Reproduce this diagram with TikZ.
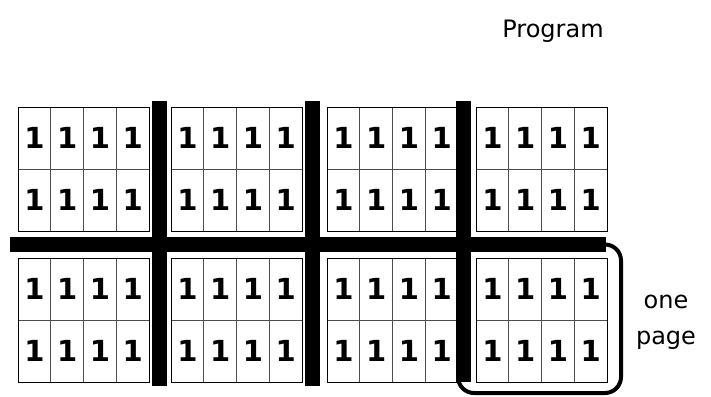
\documentclass[tikz,border=0pt]{standalone}
\usepackage{fontspec}
\setmainfont{DejaVu Sans}
\usetikzlibrary{positioning}

\begin{document}
\begin{tikzpicture}[
    x=1pt, y=-1pt,
    cell/.style={draw=black!70, line width=0.8pt, minimum width=32.75pt, minimum height=62pt, inner sep=0pt, font=\fontsize{29}{29}\selectfont\bfseries},
    blockline/.style={draw=black, line width=1pt},
    bar/.style={line width=15pt},
    pagebox/.style={line width=4pt, rounded corners=16pt},
    lbl/.style={font=\fontsize{24}{36}\selectfont, align=center}
]
    \useasboundingbox (0,0) rectangle (711,396);

    % blocks of ones
    \foreach \bx [count=\b] in {18,171,327,476} {
        \foreach \by [count=\r] in {107,258} {
            \foreach \k in {0,1} {
                \foreach \j in {0,...,3} {
                    \node[cell] (c\b\r\k\j) at ({\bx+32.75*\j+16.375},{\by+62*\k+31}) {1};
                }
            }
            \draw[blockline] (\bx,\by) rectangle +(131,124);
        }
    }

    % splitting bars
    \draw[bar] (10,244.5) -- (606,244.5);
    \draw[bar] (159,101) -- (159,386);
    \draw[bar] (312.5,101) -- (312.5,386);
    \draw[bar] (463.5,101) -- (463.5,382);

    % one page
    \draw[pagebox] (458,244.5) -- (621,244.5) -- (621,393) -- (458,393) -- cycle;

    \node[lbl] (prog) at (553,31) {Program};
    \node[lbl] (page) at (666,322) {one\\page};
\end{tikzpicture}
\end{document}
